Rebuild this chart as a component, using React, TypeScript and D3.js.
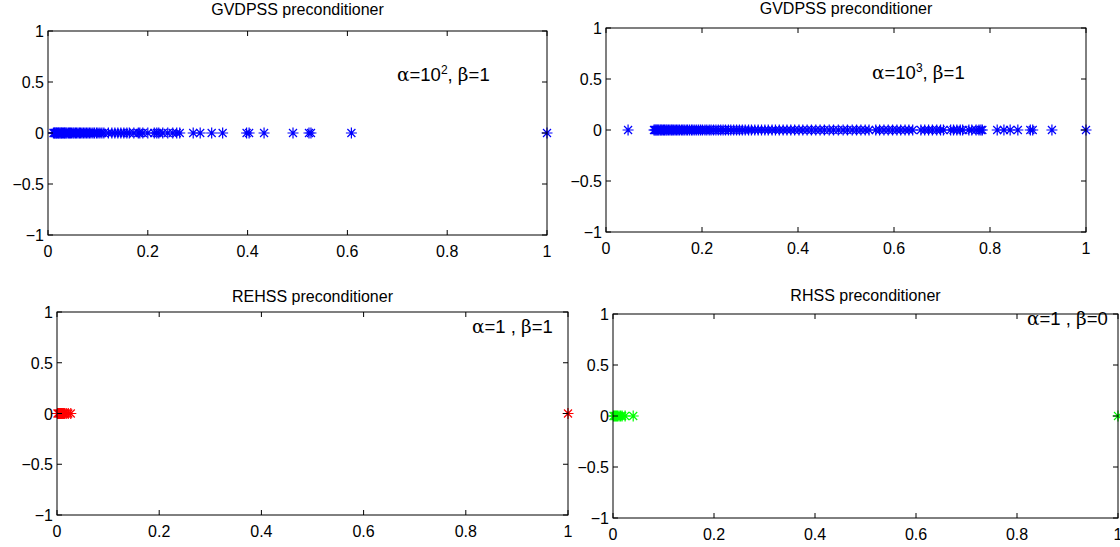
import React from "react";
import * as d3 from "d3";

// ---- data ----
const xTicks = [0, 0.2, 0.4, 0.6, 0.8, 1];
const yTicks = [-1, -0.5, 0, 0.5, 1];
const xTickLabels = ["0", "0.2", "0.4", "0.6", "0.8", "1"];
const yTickLabels = ["\u22121", "\u22120.5", "0", "0.5", "1"];

const titles = ["GVDPSS preconditioner", "GVDPSS preconditioner", "REHSS preconditioner", "RHSS preconditioner"];

const eigGVDPSS2 = [
  0.011, 0.013, 0.014, 0.016, 0.017, 0.019, 0.021, 0.022, 0.024, 0.026, 0.027, 0.029, 0.031, 0.033,
  0.034, 0.036, 0.038, 0.041, 0.043, 0.045, 0.047, 0.05, 0.052, 0.055, 0.057, 0.06, 0.063, 0.065,
  0.068, 0.071, 0.074, 0.077, 0.08, 0.083, 0.086, 0.09, 0.093, 0.097, 0.1, 0.104, 0.108, 0.112,
  0.121, 0.128, 0.134, 0.14, 0.146, 0.152, 0.158, 0.163, 0.172, 0.181, 0.184, 0.19, 0.2, 0.213,
  0.218, 0.222, 0.23, 0.24, 0.25, 0.258, 0.264, 0.291, 0.305, 0.328, 0.35, 0.398, 0.403, 0.433,
  0.491, 0.523, 0.527, 0.608, 1.0,
];

const eigGVDPSS3 = [
  0.046,
  0.1, 0.102, 0.104, 0.106, 0.108, 0.11, 0.113, 0.115, 0.117, 0.12, 0.122, 0.125, 0.127, 0.13,
  0.133, 0.136, 0.138, 0.141, 0.144, 0.147, 0.15, 0.153, 0.157, 0.16, 0.163, 0.167, 0.17, 0.174,
  0.178, 0.181, 0.185, 0.189, 0.193, 0.197, 0.201, 0.206, 0.21, 0.215, 0.219, 0.224, 0.229, 0.234,
  0.239, 0.244, 0.249, 0.255, 0.26, 0.266, 0.272, 0.278, 0.284, 0.29, 0.297, 0.303, 0.31, 0.317,
  0.324, 0.331, 0.338, 0.346, 0.353, 0.361, 0.369, 0.377, 0.385, 0.393, 0.402, 0.41, 0.419, 0.428,
  0.437, 0.446, 0.455, 0.465, 0.474, 0.484, 0.494, 0.503, 0.513, 0.522, 0.531, 0.54, 0.548, 0.562,
  0.57, 0.579, 0.588, 0.597, 0.606, 0.614, 0.623, 0.631, 0.639, 0.656, 0.664, 0.672, 0.68, 0.689,
  0.697, 0.703, 0.718, 0.724, 0.731, 0.738, 0.743, 0.756, 0.762, 0.771, 0.777, 0.781, 0.784,
  0.815, 0.829, 0.842, 0.858, 0.884, 0.889, 0.929, 1.0,
];

const eigREHSS = [0.001, 0.003, 0.005, 0.007, 0.009, 0.011, 0.013, 0.015, 0.018, 0.022, 0.027, 1.0];
const eigRHSS = [0.001, 0.003, 0.005, 0.007, 0.009, 0.012, 0.015, 0.018, 0.024, 0.04, 1.0];

const annotations = [
  { a: "10", aSup: "2", b: "1" },
  { a: "10", aSup: "3", b: "1" },
  { a: "1 ", aSup: "", b: "1" },
  { a: "1 ", aSup: "", b: "0" },
];

// ---- layout ----
const panels = [
  { x0: 48, x1: 547, y0: 31, y1: 235, titleY: 15, data: eigGVDPSS2, color: "#0000ff", title: titles[0], ann: annotations[0], annX: 397, annY: 81 },
  { x0: 606, x1: 1086, y0: 28, y1: 232, titleY: 14, data: eigGVDPSS3, color: "#0000ff", title: titles[1], ann: annotations[1], annX: 872, annY: 79 },
  { x0: 57, x1: 568, y0: 312, y1: 515, titleY: 302, data: eigREHSS, color: "#ff0000", title: titles[2], ann: annotations[2], annX: 472, annY: 333 },
  { x0: 613, x1: 1118, y0: 314, y1: 518, titleY: 301, data: eigRHSS, color: "#00ff00", title: titles[3], ann: annotations[3], annX: 1027, annY: 325 },
];

const FONT = "'Liberation Sans', Arial, Helvetica, sans-serif";
const GREEK = "'DejaVu Serif', 'Liberation Serif', serif";

function Star({ cx, cy, color }: { cx: number; cy: number; color: string }) {
  const r = 5.5;
  const d = 4;
  const p = `M${cx - r},${cy}H${cx + r}M${cx},${cy - r}V${cy + r}M${cx - d},${cy - d}L${cx + d},${cy + d}M${cx - d},${cy + d}L${cx + d},${cy - d}`;
  return <path d={p} stroke={color} strokeWidth={1.2} fill="none" />;
}

function Panel({ p }: { p: (typeof panels)[number] }) {
  const x = d3.scaleLinear().domain([0, 1]).range([p.x0, p.x1]);
  const y = d3.scaleLinear().domain([-1, 1]).range([p.y1, p.y0]);
  const tl = 5;
  const cx = (p.x0 + p.x1) / 2;
  return (
    <g>
      <text x={cx} y={p.titleY} textAnchor="middle" fontFamily={FONT} fontSize={16} fill="#000">
        {p.title}
      </text>
      {p.data.map((v, i) => (
        <Star key={i} cx={x(v)} cy={y(0)} color={p.color} />
      ))}
      <rect x={p.x0} y={p.y0} width={p.x1 - p.x0} height={p.y1 - p.y0} fill="none" stroke="#000" strokeWidth={1} />
      {xTicks.map((t, i) => (
        <g key={"x" + i}>
          <line x1={x(t)} x2={x(t)} y1={p.y1} y2={p.y1 - tl} stroke="#000" />
          <line x1={x(t)} x2={x(t)} y1={p.y0} y2={p.y0 + tl} stroke="#000" />
          <text x={x(t)} y={p.y1 + 22} textAnchor="middle" fontFamily={FONT} fontSize={16} fill="#000">
            {xTickLabels[i]}
          </text>
        </g>
      ))}
      {yTicks.map((t, i) => (
        <g key={"y" + i}>
          <line x1={p.x0} x2={p.x0 + tl} y1={y(t)} y2={y(t)} stroke="#000" />
          <line x1={p.x1} x2={p.x1 - tl} y1={y(t)} y2={y(t)} stroke="#000" />
          <text x={p.x0 - 4} y={y(t) + 6} textAnchor="end" fontFamily={FONT} fontSize={16} fill="#000">
            {yTickLabels[i]}
          </text>
        </g>
      ))}
      <text x={p.annX} y={p.annY} fontFamily={FONT} fontSize={18.5} fill="#000">
        <tspan fontFamily={GREEK}>α</tspan>
        <tspan>={p.ann.a}</tspan>
        {p.ann.aSup ? (
          <tspan dy={-7} fontSize={12}>
            {p.ann.aSup}
          </tspan>
        ) : null}
        <tspan dy={p.ann.aSup ? 7 : 0}>, </tspan>
        <tspan fontFamily={GREEK}>β</tspan>
        <tspan>={p.ann.b}</tspan>
      </text>
    </g>
  );
}

export default function App() {
  return (
    <svg
      width={1120}
      height={547}
      style={{ position: "absolute", left: 0, top: 0, background: "#fff" }}
    >
      <rect x={0} y={0} width={1120} height={547} fill="#fff" />
      {panels.map((p, i) => (
        <Panel key={i} p={p} />
      ))}
    </svg>
  );
}
